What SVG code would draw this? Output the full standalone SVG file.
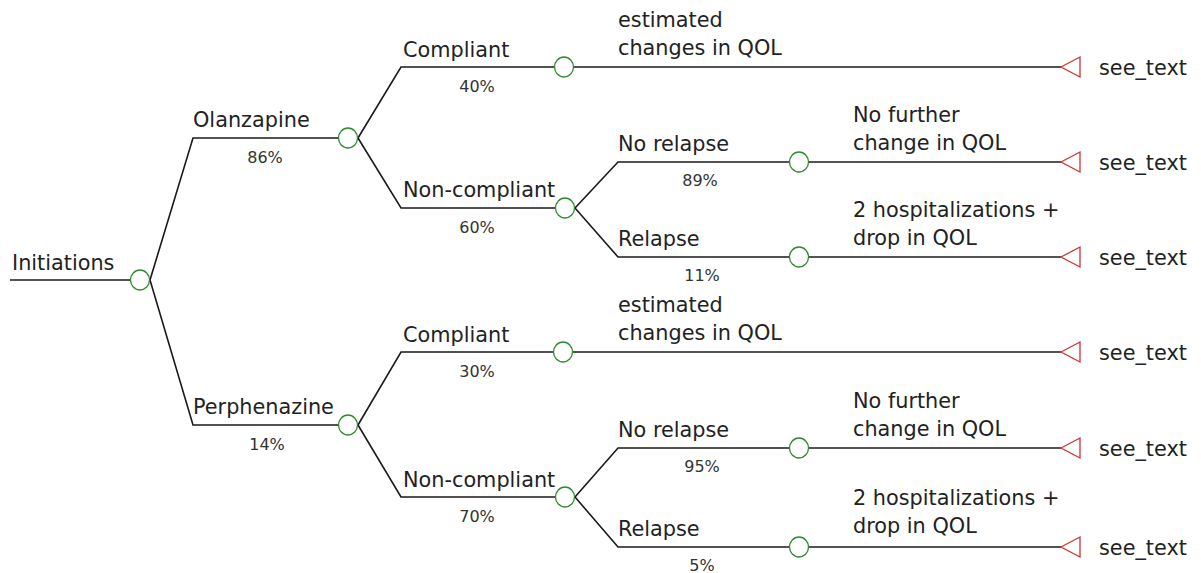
<svg xmlns="http://www.w3.org/2000/svg" width="1201" height="573" viewBox="0 0 1201 573">
<style>
  .lbl{font-family:"DejaVu Sans",Verdana,sans-serif;font-size:20.8px;fill:#222}
  .pct{font-family:"DejaVu Sans",Verdana,sans-serif;font-size:16px;fill:#333;text-anchor:middle}
  .ln{stroke:#1a1a1a;stroke-width:1.6;fill:none}
  .chance{fill:#fff;stroke:#2f8a2f;stroke-width:1.3}
  .term{fill:#fff;stroke:#cc3333;stroke-width:1.3}
</style>
<rect width="1201" height="573" fill="#fff"/>
<g id="connectors">
  <path class="ln" d="M10,280 H131"/>
  <path class="ln" d="M150,280 L193,138 H339"/>
  <path class="ln" d="M150,280 L193,425 H339"/>
  <path class="ln" d="M358,138 L401,67 H554"/>
  <path class="ln" d="M358,138 L401,208 H555"/>
  <path class="ln" d="M574,67 H1061"/>
  <path class="ln" d="M575,208 L618,162 H789"/>
  <path class="ln" d="M575,208 L618,257 H789"/>
  <path class="ln" d="M809,162 H1061"/>
  <path class="ln" d="M809,257 H1061"/>
  <path class="ln" d="M358,425 L401,352 H553"/>
  <path class="ln" d="M358,425 L401,497 H555"/>
  <path class="ln" d="M573,352 H1061"/>
  <path class="ln" d="M575,497 L618,448 H789"/>
  <path class="ln" d="M575,497 L618,547 H789"/>
  <path class="ln" d="M809,448 H1061"/>
  <path class="ln" d="M809,547 H1061"/>
</g>
<g id="root">
  <text class="lbl" x="12" y="270">Initiations</text>
  <ellipse class="chance" cx="140" cy="280" rx="9.5" ry="10"/>
</g>
<g id="olanzapine">
  <text class="lbl" x="193" y="127">Olanzapine</text>
  <text class="pct" x="265" y="163">86%</text>
  <ellipse class="chance" cx="348" cy="138" rx="9.5" ry="10"/>
</g>
<g id="olz-compliant">
  <text class="lbl" x="403" y="57">Compliant</text>
  <text class="pct" x="477" y="92">40%</text>
  <ellipse class="chance" cx="564" cy="67" rx="9.5" ry="10"/>
</g>
<g id="olz-compliant-outcome">
  <text class="lbl" x="618" y="27">estimated</text>
  <text class="lbl" x="618" y="55">changes in QOL</text>
  <polygon class="term" points="1061,67 1080,57 1080,77"/>
  <text class="lbl" x="1099" y="75">see_text</text>
</g>
<g id="olz-noncompliant">
  <text class="lbl" x="403" y="197">Non-compliant</text>
  <text class="pct" x="477" y="233">60%</text>
  <ellipse class="chance" cx="565" cy="208" rx="9.5" ry="10"/>
</g>
<g id="olz-norelapse">
  <text class="lbl" x="618" y="151">No relapse</text>
  <text class="pct" x="700" y="186">89%</text>
  <ellipse class="chance" cx="799" cy="162" rx="9.5" ry="10"/>
</g>
<g id="olz-norelapse-outcome">
  <text class="lbl" x="853" y="122">No further</text>
  <text class="lbl" x="853" y="150">change in QOL</text>
  <polygon class="term" points="1061,162 1080,152 1080,172"/>
  <text class="lbl" x="1099" y="170">see_text</text>
</g>
<g id="olz-relapse">
  <text class="lbl" x="618" y="246">Relapse</text>
  <text class="pct" x="702" y="281">11%</text>
  <ellipse class="chance" cx="799" cy="257" rx="9.5" ry="10"/>
</g>
<g id="olz-relapse-outcome">
  <text class="lbl" x="853" y="217">2 hospitalizations +</text>
  <text class="lbl" x="853" y="245">drop in QOL</text>
  <polygon class="term" points="1061,257 1080,247 1080,267"/>
  <text class="lbl" x="1099" y="265">see_text</text>
</g>
<g id="perphenazine">
  <text class="lbl" x="193" y="414">Perphenazine</text>
  <text class="pct" x="267" y="450">14%</text>
  <ellipse class="chance" cx="348" cy="425" rx="9.5" ry="10"/>
</g>
<g id="per-compliant">
  <text class="lbl" x="403" y="342">Compliant</text>
  <text class="pct" x="477" y="377">30%</text>
  <ellipse class="chance" cx="563" cy="352" rx="9.5" ry="10"/>
</g>
<g id="per-compliant-outcome">
  <text class="lbl" x="618" y="312">estimated</text>
  <text class="lbl" x="618" y="340">changes in QOL</text>
  <polygon class="term" points="1061,352 1080,342 1080,362"/>
  <text class="lbl" x="1099" y="360">see_text</text>
</g>
<g id="per-noncompliant">
  <text class="lbl" x="403" y="487">Non-compliant</text>
  <text class="pct" x="477" y="522">70%</text>
  <ellipse class="chance" cx="565" cy="497" rx="9.5" ry="10"/>
</g>
<g id="per-norelapse">
  <text class="lbl" x="618" y="437">No relapse</text>
  <text class="pct" x="702" y="472">95%</text>
  <ellipse class="chance" cx="799" cy="448" rx="9.5" ry="10"/>
</g>
<g id="per-norelapse-outcome">
  <text class="lbl" x="853" y="408">No further</text>
  <text class="lbl" x="853" y="436">change in QOL</text>
  <polygon class="term" points="1061,448 1080,438 1080,458"/>
  <text class="lbl" x="1099" y="456">see_text</text>
</g>
<g id="per-relapse">
  <text class="lbl" x="618" y="536">Relapse</text>
  <text class="pct" x="702" y="571">5%</text>
  <ellipse class="chance" cx="799" cy="547" rx="9.5" ry="10"/>
</g>
<g id="per-relapse-outcome">
  <text class="lbl" x="853" y="505">2 hospitalizations +</text>
  <text class="lbl" x="853" y="533">drop in QOL</text>
  <polygon class="term" points="1061,547 1080,537 1080,557"/>
  <text class="lbl" x="1099" y="555">see_text</text>
</g>
</svg>
